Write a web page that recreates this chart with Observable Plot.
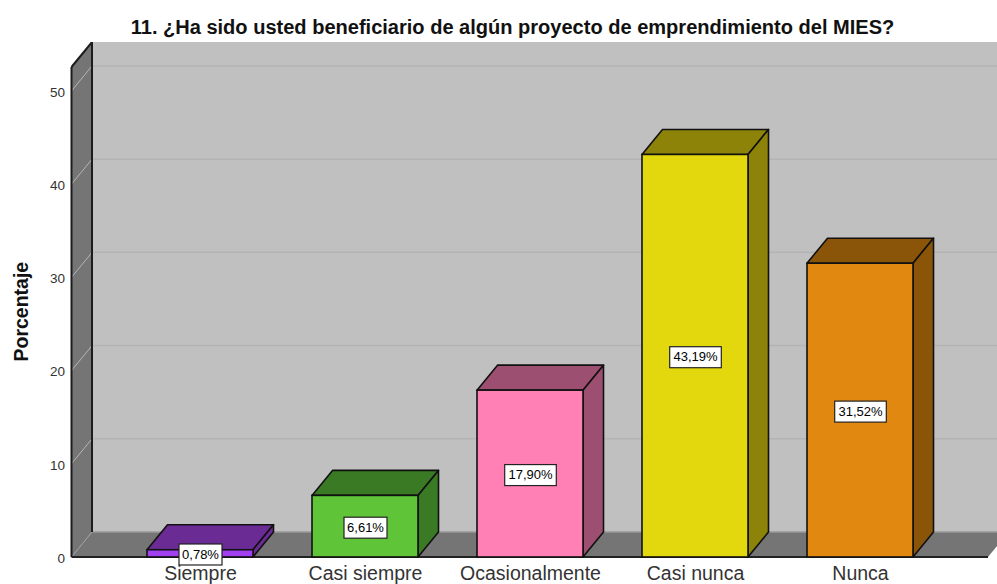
<!DOCTYPE html>
<html><head><meta charset="utf-8">
<script src="https://cdn.jsdelivr.net/npm/d3@7"></script>
<script src="https://cdn.jsdelivr.net/npm/@observablehq/plot@0.6"></script>
<style>
html,body{margin:0;padding:0;background:#fff;overflow:hidden}
#title{box-sizing:border-box;width:997px;height:42px;padding:17px 0 0 28px;text-align:center;font:bold 20.05px/20px "Liberation Sans",Arial,sans-serif;color:#111;white-space:nowrap}
svg{display:block}
</style></head><body>
<div id="title">11. ¿Ha sido usted beneficiario de algún proyecto de emprendimiento del MIES?</div>
<div id="chart"></div>
<script>
const categories = ["Siempre","Casi siempre","Ocasionalmente","Casi nunca","Nunca"];
const percents = [0.78,6.61,17.90,43.19,31.52];
const labels = ["0,78%","6,61%","17,90%","43,19%","31,52%"];
const frontColors = ["#a040f0","#5fc438","#ff80b4","#e3d80e","#e0880f"];
const darkColors = ["#6a2b94","#3a7a24","#9c4f70","#8c8308","#8a5509"];
const yTicks = [0,10,20,30,40,50];
const yTop = 52.57;

const depthX = 20.5, depthY = 25;
const rows = categories.map((c,i)=>({c,v:percents[i],label:labels[i],front:frontColors[i],dark:darkColors[i]}));
const poly = (g,pts,fill,stroke,w)=>g.append("polygon").attr("points",pts.map(p=>p.join(",")).join(" "))
  .attr("fill",fill).attr("stroke",stroke||"none").attr("stroke-width",w||0).attr("stroke-linejoin","round");
const seg = (g,a,b,stroke,w)=>g.append("line").attr("x1",a[0]).attr("y1",a[1]).attr("x2",b[0]).attr("y2",b[1]).attr("stroke",stroke).attr("stroke-width",w);

function walls(index,scales,values,dim){
  const g = d3.create("svg:g");
  const L = dim.marginLeft, R = dim.width-dim.marginRight;
  const y0 = scales.y(0), yT = scales.y(yTop);
  const bx = L+depthX;
  g.append("rect").attr("x",bx).attr("y",yT-depthY).attr("width",dim.width-bx+30).attr("height",y0-yT).attr("fill","#c0c0c0");
  for (const t of yTicks.slice(1)) seg(g,[bx,scales.y(t)-depthY],[dim.width,scales.y(t)-depthY],"#b3b3b3",1.5);
  poly(g,[[L,y0],[R,y0],[R+depthX,y0-depthY],[bx,y0-depthY]],"#757575");
  seg(g,[bx,y0-depthY],[dim.width,y0-depthY],"#9a9a9a",1.5);
  poly(g,[[L,y0],[bx,y0-depthY],[bx,yT-depthY],[L,yT]],"#757575");
  for (const t of yTicks.slice(1)) seg(g,[L,scales.y(t)],[bx,scales.y(t)-depthY],"#b5b5b5",1);
  seg(g,[L,y0],[bx,y0-depthY],"#a0a0a0",1);
  seg(g,[L,y0],[L,yT],"#1c1c1c",2);
  seg(g,[L,yT],[bx,yT-depthY],"#1c1c1c",2);
  seg(g,[bx,yT-depthY],[bx,y0-depthY],"#1c1c1c",2);
  seg(g,[L,y0],[R,y0],"#222",2);
  return g.node();
}

function bar3d(index,scales,values,dim,ctx,next){
  const node = next(index,scales,values,dim,ctx);
  const rects = [...node.querySelectorAll("rect")];
  const g = d3.select(node);
  rects.forEach((r,k)=>{
    const d = rows[index[k]];
    const x = +r.getAttribute("x"), y = +r.getAttribute("y"), w = +r.getAttribute("width"), h = +r.getAttribute("height");
    poly(g,[[x,y],[x+w,y],[x+w+depthX,y-depthY],[x+depthX,y-depthY]],d.dark,"#111",1.6);
    poly(g,[[x+w,y],[x+w,y+h],[x+w+depthX,y+h-depthY],[x+w+depthX,y-depthY]],d.dark,"#111",1.6);
    node.appendChild(r);
  });
  return node;
}

function boxed(index,scales,values,dim,ctx,next){
  const node = next(index,scales,values,dim,ctx);
  node.querySelectorAll("text").forEach((t,k)=>{
    const s = t.textContent.length;
    const r = document.createElementNS("http://www.w3.org/2000/svg","rect");
    const w = s*8.6, h = 21;
    r.setAttribute("x",-w/2); r.setAttribute("y",-h/2); r.setAttribute("width",w); r.setAttribute("height",h);
    r.setAttribute("fill","#fff"); r.setAttribute("stroke","#222"); r.setAttribute("stroke-width",1.2);
    r.setAttribute("transform",t.getAttribute("transform")||"");
    node.insertBefore(r,t);
  });
  return node;
}

const plot = Plot.plot({
  width:997, height:542,
  marginLeft:71.5, marginRight:9, marginTop:25, marginBottom:27,
  style:{background:"transparent",fontFamily:"'Liberation Sans',Arial,sans-serif",overflow:"hidden"},
  x:{domain:categories,paddingInner:0.3576,paddingOuter:0.455,label:null},
  y:{domain:[0,yTop],label:null},
  marks:[
    walls,
    Plot.barY(rows,{x:"c",y:"v",fill:"front",stroke:"#111",strokeWidth:1.6,render:bar3d}),
    Plot.text(rows,{x:"c",y:d=>d.v/2<1.4?0.43:d.v/2,dy:1,text:"label",fontSize:13,fill:"#000",render:boxed}),
    Plot.axisX({domain:categories,tickSize:0,tickPadding:9,fontSize:19.5,fill:"#333",label:null}),
    Plot.axisY({ticks:yTicks,tickSize:0,tickPadding:7,dy:1,fontSize:13.5,fill:"#333",label:null}),
    Plot.text(["Porcentaje"],{frameAnchor:"left",dx:-50,dy:49,rotate:-90,fontSize:19.5,fontWeight:"bold",fill:"#111"})
  ]
});
document.getElementById("chart").appendChild(plot);
</script>
</body></html>
